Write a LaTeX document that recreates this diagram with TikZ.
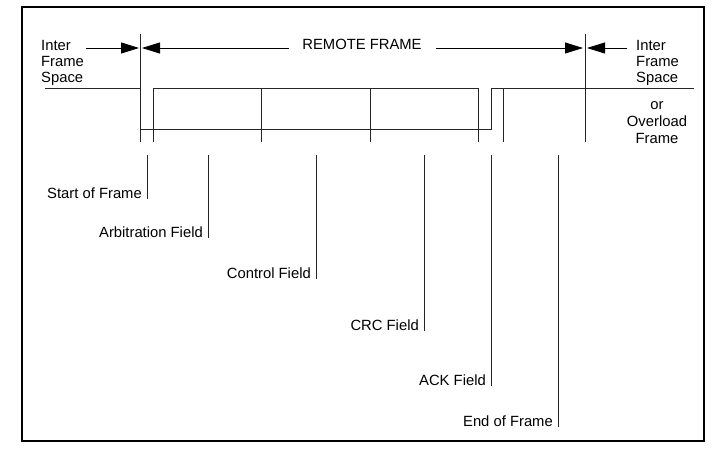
\documentclass[tikz,border=0pt]{standalone}
\usepackage{fontspec}
\setmainfont{Liberation Sans}
\usetikzlibrary{arrows.meta}
\begin{document}
\begin{tikzpicture}[x=1pt,y=-1pt,
  thin line/.style={line width=0.8pt,black!85},
  border/.style={line width=1.6pt},
  dimarrow/.style={line width=0.8pt,-{Triangle[length=18pt,width=11pt]}},
  lbl/.style={inner sep=0pt,font=\fontsize{14.8}{16}\selectfont},
  fieldlbl/.style={lbl,anchor=base east}]
\useasboundingbox (0,0) rectangle (717,450);
\draw[border] (22,7) rectangle (704,441);
% dimension lines
\coordinate (l1) at (86,48);  \coordinate (lt) at (139,48);
\coordinate (l2) at (289,48); \coordinate (lt2) at (142,48);
\coordinate (r1) at (436,48); \coordinate (rt) at (583,48);
\coordinate (r2) at (627,48); \coordinate (rt2) at (587,48);
\draw[dimarrow] (l1) -- (lt);
\draw[dimarrow] (l2) -- (lt2);
\draw[dimarrow] (r1) -- (rt);
\draw[dimarrow] (r2) -- (rt2);
\coordinate (vl1) at (140,34); \coordinate (vl2) at (140,142);
\coordinate (vr1) at (585,34); \coordinate (vr2) at (585,142);
\draw[thin line] (vl1) -- (vl2);
\draw[thin line] (vr1) -- (vr2);
% texts top
\node[lbl,anchor=base] (remote) at (362,49) {REMOTE FRAME};
\node[lbl,anchor=base west,align=left] (ifsl) at (41,82) {Inter\\Frame\\Space};
\node[lbl,anchor=base west,align=left] (ifsr) at (636,82) {Inter\\Frame\\Space};
\node[lbl,anchor=base,align=center,font=\fontsize{14.8}{17}\selectfont] (ovl) at (657,143) {or\\Overload\\Frame};
% signal
\coordinate (i0) at (45,88); \coordinate (i1) at (140,88);
\draw[thin line] (i0) -- (i1);
\coordinate (b0) at (140,129); \coordinate (b1) at (491,129);
\coordinate (b2) at (491,88);  \coordinate (b3) at (694,88);
\draw[thin line] (b0) -- (b1) -- (b2) -- (b3);
\coordinate (t0) at (153,142); \coordinate (t1) at (153,88);
\coordinate (t2) at (478,88);  \coordinate (t3) at (478,142);
\draw[thin line] (t0) -- (t1) -- (t2) -- (t3);
\foreach \xx [count=\k] in {261,370,503}{
  \coordinate (s\k a) at (\xx,88); \coordinate (s\k b) at (\xx,142);
  \draw[thin line] (s\k a) -- (s\k b);
}
% field labels
\foreach \xx/\yy/\txt/\nm in {147/199/Start of Frame/sof,
  208/238/Arbitration Field/arb,
  316/279/Control Field/ctl,
  424/331/CRC Field/crc,
  491/386/ACK Field/ack,
  558/427/End of Frame/eof}{
  \coordinate (\nm top) at (\xx,155);
  \coordinate (\nm bot) at (\xx,\yy);
  \draw[thin line] (\nm top) -- (\nm bot);
  \node[fieldlbl] (\nm) at (\xx-5,\yy-1) {\txt};
}
\end{tikzpicture}
\end{document}
